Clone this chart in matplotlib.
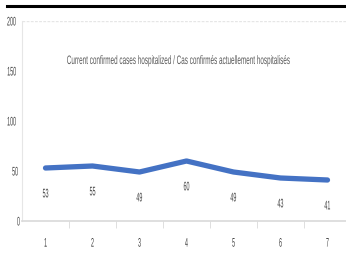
import matplotlib.pyplot as plt
from matplotlib import patheffects
from matplotlib.transforms import Affine2D

days = [1, 2, 3, 4, 5, 6, 7]
hospitalized = [53, 55, 49, 60, 49, 43, 41]
series_label = "Current confirmed cases hospitalized / Cas confirmés actuellement hospitalisés"

plt.rcParams["font.family"] = ["Liberation Sans", "DejaVu Sans"]


# the reference uses a condensed font; squeeze glyphs horizontally around their centre
class Squeeze(patheffects.AbstractPathEffect):
    def __init__(self, sx):
        super().__init__()
        self.sx = sx

    def draw_path(self, renderer, gc, tpath, affine, rgbFace=None):
        ext = tpath.get_extents()
        cx = (ext.x0 + ext.x1) / 2
        t = Affine2D().translate(-cx, 0).scale(self.sx, 1).translate(cx, 0) + affine
        renderer.draw_path(gc, tpath, t, rgbFace)


squeeze = [Squeeze(0.43)]

fig = plt.figure(figsize=(3.46, 2.55), dpi=100)
ax = fig.add_axes([22 / 346, 33 / 255, 329 / 346, 200 / 255])

ax.plot(days, hospitalized, color="#4472C4", lw=3.8, solid_capstyle="round")
for d, v in zip(days, hospitalized):
    ax.annotate(str(v), (d, v), xytext=(0, -19), textcoords="offset points",
                ha="center", va="center", fontsize=9, color="#404040",
                path_effects=squeeze)

ax.text(158 / 329, 0.80, series_label, transform=ax.transAxes, ha="center",
        va="center", fontsize=8.8, color="#595959", path_effects=[Squeeze(0.52)])

ax.set_xlim(0.5, 7.5)
ax.set_ylim(0, 200)
ax.set_yticks([0, 50, 100, 150, 200])
ax.set_xticks(days)
ax.set_xticks([1.5, 2.5, 3.5, 4.5, 5.5, 6.5], minor=True)
ax.tick_params(axis="y", length=0, labelsize=9, labelcolor="#404040", pad=0)
ax.tick_params(axis="x", which="major", length=0, labelsize=9,
               labelcolor="#404040", pad=12)
ax.tick_params(axis="x", which="minor", length=5, color="#d9d9d9", direction="out")
for lab in ax.get_xticklabels() + ax.get_yticklabels():
    lab.set_path_effects(squeeze)
ax.axhline(200, color="#e6e6e6", lw=1, ls=(0, (2, 1)))

for s in ["top", "right"]:
    ax.spines[s].set_visible(False)
ax.spines["left"].set_color("#e6e6e6")
ax.spines["bottom"].set_color("#d9d9d9")
ax.spines["bottom"].set_linewidth(1.2)

fig.add_artist(plt.Line2D([7 / 346, 1], [1 - 6.5 / 255, 1 - 6.5 / 255],
                          color="black", lw=2.2))

fig.savefig("out.png", dpi=100)
